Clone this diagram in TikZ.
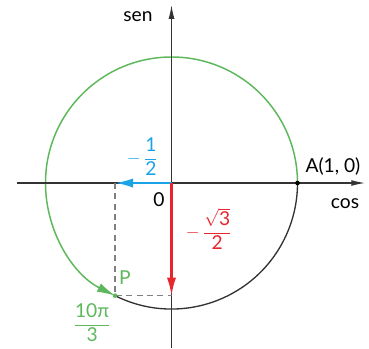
\documentclass[tikz,border=0pt]{standalone}
\usepackage{fontspec}
\usepackage{amsmath}
\setmainfont{Lato}
\usetikzlibrary{arrows.meta,positioning}
\definecolor{arccolor}{HTML}{5DB85C}
\definecolor{coscolor}{HTML}{1AA3E6}
\definecolor{sencolor}{HTML}{E8262D}
\definecolor{axiscolor}{HTML}{333333}

\begin{document}
\begin{tikzpicture}[
  axis/.style={line width=0.8pt, axiscolor, -{Latex[length=0.33cm, width=0.14cm]}},
  proj/.style={line width=1.5pt, -{Latex[length=0.43cm, width=0.22cm]}},
  guide/.style={gray, line width=0.9pt, dash pattern=on 4pt off 3pt},
  lbl/.style={font=\fontsize{13}{15}\selectfont, inner sep=1pt},
]
  \useasboundingbox (-4.083,-3.929) rectangle (4.702,4.357);

  % Points
  \coordinate (O) at (0,0);
  \coordinate (A) at (3,0);
  \coordinate (P) at (243.4:3);
  \coordinate (Px) at (P |- O);
  \coordinate (Py) at (P -| O);
  \coordinate (xl) at (-3.68,0);
  \coordinate (xr) at (4.61,0);
  \coordinate (yb) at (0,-3.93);
  \coordinate (yt) at (0,4.24);

  % Circle
  \draw[line width=0.9pt, axiscolor] (P) arc[start angle=243.4, end angle=360, radius=3];
  \draw[line width=1pt, arccolor, -{Latex[length=0.43cm, width=0.22cm]}]
    (A) arc[start angle=0, end angle=243.4, radius=3];

  % Axes
  \draw[axis] (xl) -- (xr);
  \draw[axis] (yb) -- (yt);

  % Projections
  \draw[guide] (Px) -- (P) -- (Py);
  \draw[proj, coscolor] (O) -- (Px);
  \draw[proj, sencolor] (O) -- (Py);

  % Dots
  \fill[black] (A) circle (0.055);
  \fill[arccolor] (P) circle (0.055);

  % Labels
  \node[lbl] (sen) at (-0.80,3.95) {sen};
  \node[lbl] (cos) at (4.13,-0.48) {cos};
  \node[lbl, anchor=west] (Albl) at (3.15,0.40) {A(1, 0)};
  \node[lbl] (Olbl) at (-0.30,-0.40) {0};
  \node[lbl, coscolor] (coslbl) at (-0.69,0.62) {$-\,\dfrac{\text{1}}{\text{2}}$};
  \node[lbl, sencolor] (senlbl) at (0.89,-1.10) {$-\,\dfrac{\sqrt{\text{3}}}{\text{2}}$};
  \node[lbl, arccolor] (Plbl) at (-1.11,-2.26) {P};
  \node[lbl, arccolor] (anglbl) at (-1.89,-3.33) {$\dfrac{\text{10π}}{\text{3}}$};
\end{tikzpicture}
\end{document}
